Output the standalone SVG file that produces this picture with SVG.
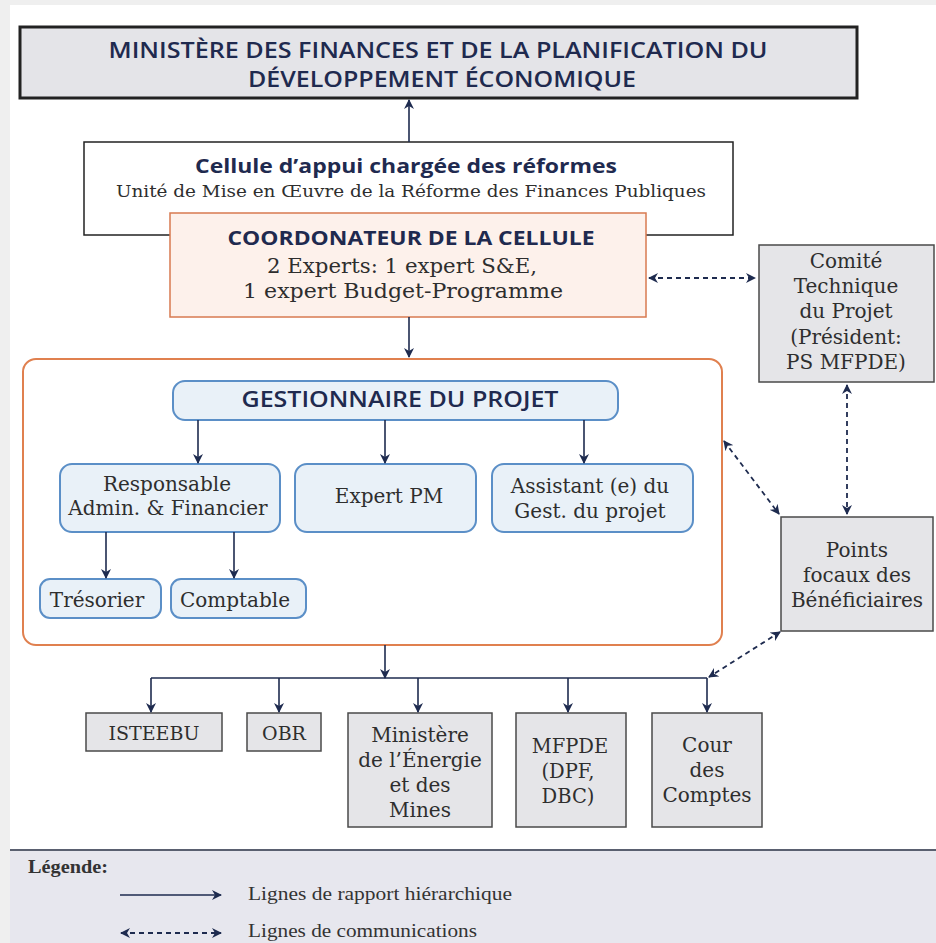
<svg xmlns="http://www.w3.org/2000/svg" width="936" height="943" viewBox="0 0 936 943">
<defs>
<marker id="ah" viewBox="0 0 10 10" refX="9" refY="5" markerWidth="10" markerHeight="10" markerUnits="userSpaceOnUse" orient="auto-start-reverse">
<path d="M0,0 L10,5 L0,10 L3,5 z" fill="#1e2b4f"/>
</marker>
<style>
.sans{font-family:"Open Sans","Liberation Sans",sans-serif;fill:#1f2a4f}
.ser{font-family:"DejaVu Serif","Liberation Serif",serif;fill:#2e2e2e}
.leg{font-family:"Liberation Serif",serif;fill:#333}
.gray{fill:#e5e5e8;stroke:#4a4a4a;stroke-width:1.5}
.blue{fill:#e9f1f8;stroke:#5b8fc7;stroke-width:2}
.hier{stroke:#1e2b4f;stroke-width:1.6;fill:none}
.comm{stroke:#1e2b4f;stroke-width:1.8;fill:none;stroke-dasharray:5 4}
</style>
</defs>
<rect x="0" y="0" width="936" height="943" fill="#efefef"/>
<rect x="10" y="5" width="926" height="845" fill="#ffffff"/>
<rect x="10" y="850" width="926" height="93" fill="#e7e7ee"/>
<line x1="10" y1="850" x2="936" y2="850" stroke="#5a6070" stroke-width="2"/>

<g id="ministere">
<rect x="20" y="27" width="837" height="71" fill="#e4e4e8" stroke="#222" stroke-width="3"/>
<text class="sans" x="438" y="58" font-size="22" font-weight="600" text-anchor="middle" textLength="659" lengthAdjust="spacingAndGlyphs">MINISTÈRE DES FINANCES ET DE LA PLANIFICATION DU</text>
<text class="sans" x="442" y="87" font-size="22" font-weight="600" text-anchor="middle" textLength="388" lengthAdjust="spacingAndGlyphs">DÉVELOPPEMENT ÉCONOMIQUE</text>
</g>

<g id="cellule">
<rect x="84" y="142" width="649" height="93" fill="#fff" stroke="#222" stroke-width="1.5"/>
<text class="sans" x="406" y="173" font-size="20" font-weight="bold" text-anchor="middle" textLength="422" lengthAdjust="spacingAndGlyphs">Cellule d’appui chargée des réformes</text>
<text class="ser" x="411" y="197" font-size="17" text-anchor="middle" textLength="590" lengthAdjust="spacingAndGlyphs">Unité de Mise en Œuvre de la Réforme des Finances Publiques</text>
</g>

<g id="coordonateur">
<rect x="170" y="213" width="476" height="104" fill="#fdf1eb" stroke="#d77a50" stroke-width="1.5"/>
<text class="sans" x="411" y="245" font-size="20" font-weight="bold" text-anchor="middle" textLength="367" lengthAdjust="spacingAndGlyphs">COORDONATEUR DE LA CELLULE</text>
<text class="ser" x="402" y="273" font-size="21" text-anchor="middle" textLength="270" lengthAdjust="spacingAndGlyphs">2 Experts: 1 expert S&amp;E,</text>
<text class="ser" x="403" y="298" font-size="21" text-anchor="middle" textLength="320" lengthAdjust="spacingAndGlyphs">1 expert Budget-Programme</text>
</g>

<g id="comite">
<rect x="759" y="245" width="175" height="137" class="gray"/>
<text class="ser" font-size="20" text-anchor="middle"><tspan x="846" y="268">Comité</tspan><tspan x="846" y="293">Technique</tspan><tspan x="846" y="318">du Projet</tspan><tspan x="846" y="344">(Président:</tspan><tspan x="846" y="369">PS MFPDE)</tspan></text>
</g>

<g id="projet">
<rect x="23" y="359" width="699" height="286" rx="13" fill="#fff" stroke="#e0804f" stroke-width="2"/>
</g>

<g id="gestionnaire">
<rect x="173" y="381" width="445" height="39" rx="12" class="blue"/>
<text class="sans" x="400" y="407" font-size="22" font-weight="600" text-anchor="middle" textLength="317" lengthAdjust="spacingAndGlyphs">GESTIONNAIRE DU PROJET</text>
</g>

<g id="responsable">
<rect x="60" y="464" width="220" height="68" rx="12" class="blue"/>
<text class="ser" font-size="20" text-anchor="middle"><tspan x="167" y="491">Responsable</tspan><tspan x="168" y="515">Admin. &amp; Financier</tspan></text>
</g>

<g id="expertpm">
<rect x="295" y="464" width="181" height="68" rx="12" class="blue"/>
<text class="ser" x="389" y="503" font-size="20" text-anchor="middle">Expert PM</text>
</g>

<g id="assistant">
<rect x="492" y="464" width="201" height="68" rx="12" class="blue"/>
<text class="ser" font-size="20" text-anchor="middle"><tspan x="590" y="493">Assistant (e) du</tspan><tspan x="590" y="518">Gest. du projet</tspan></text>
</g>

<g id="tresorier">
<rect x="40" y="579" width="121" height="39" rx="10" class="blue"/>
<text class="ser" x="97" y="607" font-size="20" text-anchor="middle">Trésorier</text>
</g>

<g id="comptable">
<rect x="171" y="579" width="135" height="39" rx="10" class="blue"/>
<text class="ser" x="235" y="607" font-size="20" text-anchor="middle">Comptable</text>
</g>

<g id="points">
<rect x="781" y="517" width="152" height="114" class="gray"/>
<text class="ser" font-size="20" text-anchor="middle"><tspan x="857" y="557">Points</tspan><tspan x="857" y="582">focaux des</tspan><tspan x="857" y="607">Bénéficiaires</tspan></text>
</g>

<g id="isteebu">
<rect x="86" y="713" width="136" height="38" class="gray"/>
<text class="ser" x="154" y="740" font-size="19" text-anchor="middle">ISTEEBU</text>
</g>

<g id="obr">
<rect x="247" y="713" width="74" height="38" class="gray"/>
<text class="ser" x="284" y="740" font-size="19" text-anchor="middle">OBR</text>
</g>

<g id="energie">
<rect x="348" y="713" width="144" height="114" class="gray"/>
<text class="ser" font-size="20" text-anchor="middle"><tspan x="420" y="742">Ministère</tspan><tspan x="420" y="767">de l’Énergie</tspan><tspan x="420" y="792">et des</tspan><tspan x="420" y="817">Mines</tspan></text>
</g>

<g id="mfpde">
<rect x="516" y="713" width="110" height="114" class="gray"/>
<text class="ser" font-size="19.5" text-anchor="middle"><tspan x="570" y="753">MFPDE</tspan><tspan x="568" y="778">(DPF,</tspan><tspan x="568" y="803">DBC)</tspan></text>
</g>

<g id="cour">
<rect x="652" y="713" width="110" height="114" class="gray"/>
<text class="ser" font-size="20" text-anchor="middle"><tspan x="707" y="752">Cour</tspan><tspan x="707" y="777">des</tspan><tspan x="707" y="802">Comptes</tspan></text>
</g>

<g id="connectors">
<path class="hier" d="M409,142 V100" marker-end="url(#ah)"/>
<path class="hier" d="M409,317 V357" marker-end="url(#ah)"/>
<path class="hier" d="M198,420 V463" marker-end="url(#ah)"/>
<path class="hier" d="M385,420 V463" marker-end="url(#ah)"/>
<path class="hier" d="M584,420 V463" marker-end="url(#ah)"/>
<path class="hier" d="M106,532 V578" marker-end="url(#ah)"/>
<path class="hier" d="M234,532 V578" marker-end="url(#ah)"/>
<path class="hier" d="M385,645 V678" marker-end="url(#ah)"/>
<path class="hier" d="M151,678 H707"/>
<path class="hier" d="M151,678 V712" marker-end="url(#ah)"/>
<path class="hier" d="M279,678 V712" marker-end="url(#ah)"/>
<path class="hier" d="M418,678 V712" marker-end="url(#ah)"/>
<path class="hier" d="M568,678 V712" marker-end="url(#ah)"/>
<path class="hier" d="M707,678 V712" marker-end="url(#ah)"/>
<path class="comm" d="M649,278 H755" marker-start="url(#ah)" marker-end="url(#ah)"/>
<path class="comm" d="M847,385 V514" marker-start="url(#ah)" marker-end="url(#ah)"/>
<path class="comm" d="M724,441 L779,514" marker-start="url(#ah)" marker-end="url(#ah)"/>
<path class="comm" d="M780,632 L709,677" marker-start="url(#ah)" marker-end="url(#ah)"/>
</g>

<g id="legende">
<text class="leg" x="28" y="873" font-size="18" font-weight="bold" textLength="80" lengthAdjust="spacingAndGlyphs">Légende:</text>
<path class="hier" d="M120,895 H221" marker-end="url(#ah)"/>
<text class="leg" x="248" y="900" font-size="18" textLength="264" lengthAdjust="spacingAndGlyphs">Lignes de rapport hiérarchique</text>
<path class="comm" d="M121,933 H221" stroke-dasharray="4 3" marker-start="url(#ah)" marker-end="url(#ah)"/>
<text class="leg" x="248" y="937" font-size="18" textLength="229" lengthAdjust="spacingAndGlyphs">Lignes de communications</text>
</g>
</svg>
